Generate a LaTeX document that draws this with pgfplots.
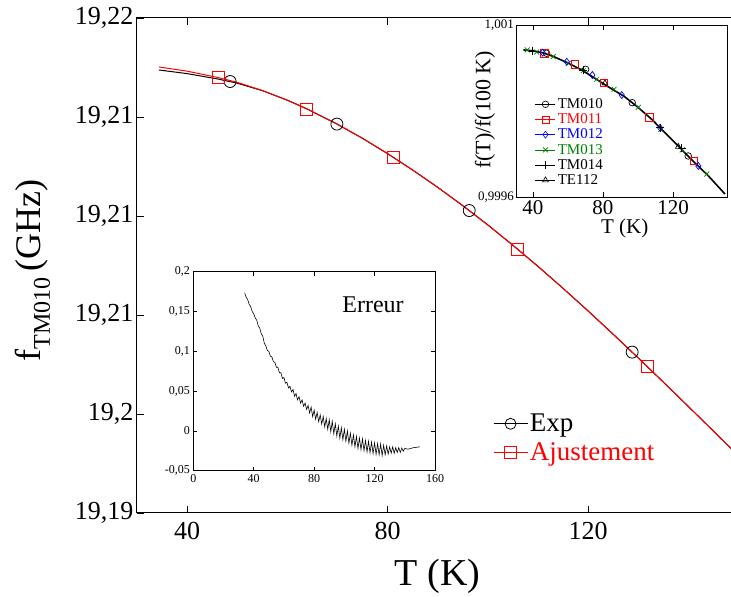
\documentclass[border=0pt]{standalone}
\usepackage{fontspec}
\setmainfont{Liberation Serif}
\usepackage{pgfplots}
\pgfplotsset{compat=1.18}
\definecolor{dgreen}{rgb}{0,0.5,0}
\begin{document}
\begin{tikzpicture}
% ---------------- main axis ----------------
\begin{axis}[
  at={(136.9pt,84pt)}, anchor=south west, scale only axis,
  width=601.5pt, height=495pt,
  xmin=30, xmax=150, ymin=0, ymax=30,
  axis line style={line width=1pt},
  tick style={line width=0.8pt, black},
  tick align=inside, major tick length=7pt,
  xtick={40,80,120}, xticklabels={40,80,120},
  ytick={0,6,12,18,24,30},
  yticklabels={{19,19},{19,2},{19,21},{19,21},{19,21},{19,22}},
  ytick pos=left,
  ticklabel style={font=\fontsize{26}{26}\selectfont},
  xticklabel style={yshift=-6pt},
  xlabel={T (K)},
  every axis x label/.style={at={(axis description cs:0.5,-0.127)}, anchor=center, font=\fontsize{38}{38}\selectfont},
  ylabel={f\raisebox{-9pt}{\fontsize{24}{24}\selectfont TM010}\,(GHz)},
  every axis y label/.style={at={(axis description cs:-0.173,0.49)}, rotate=90, anchor=center, font=\fontsize{36}{36}\selectfont},
  legend style={draw=none, fill=none, at={(axis description cs:0.592,0.204)}, anchor=north west,
    font=\fontsize{27}{27}\selectfont, inner sep=0pt, row sep=5pt},
  legend cell align=left,
  legend image code/.code={\draw[mark repeat=2,mark phase=2,#1] plot coordinates {(0pt,0pt) (17pt,0pt) (34pt,0pt)};},
]
\addlegendimage{black, line width=0.8pt, mark=o, mark size=5.5pt}
\addlegendentry{Exp}
\addlegendimage{red, line width=0.8pt, mark=square, mark size=6pt}
\addlegendentry{\textcolor{red}{Ajustement}}
% Exp curve
\addplot[black, line width=1pt, forget plot] coordinates {
(34.4,26.85) (40,26.63) (46.2,26.30) (50,26.05) (55,25.60) (60,25.02) (64,24.48)
(70,23.56) (75,22.71) (80,21.78) (85,20.79) (90,19.74) (95,18.63) (100,17.46)
(105,16.23) (110,14.95) (115,13.62) (120,12.25) (125,10.84) (130,9.40)
(135,7.94) (140,6.46) (145,4.97) (150,3.47)};
\addplot[black, only marks, mark=o, mark size=6pt, line width=0.8pt, forget plot] coordinates {
(48.6,26.15) (69.9,23.57) (96.3,18.33) (128.8,9.75)};
% fit curve
\addplot[red, line width=1pt, forget plot] coordinates {
(34.4,27.03) (40,26.78) (46.2,26.39) (50,26.10) (55,25.61) (60,25.02) (64,24.48)
(70,23.56) (75,22.71) (80,21.78) (85,20.79) (90,19.74) (95,18.63) (100,17.46)
(105,16.23) (110,14.95) (115,13.62) (120,12.25) (125,10.84) (130,9.40)
(135,7.94) (140,6.46) (145,4.97) (150,3.47)};
\addplot[red, only marks, mark=square, mark size=6pt, line width=0.8pt, forget plot] coordinates {
(46.2,26.39) (63.9,24.49) (81.1,21.58) (106.0,15.97) (131.8,8.88)};
\end{axis}
% ---------------- error inset ----------------
\begin{axis}[
  at={(193.3pt,126.3pt)}, anchor=south west, scale only axis,
  width=241.7pt, height=199pt,
  xmin=0, xmax=160, ymin=-0.05, ymax=0.2,
  axis background/.style={fill=white},
  axis line style={line width=0.7pt},
  tick style={line width=0.6pt, black},
  tick align=inside, major tick length=4pt,
  xtick={0,40,80,120,160}, xticklabels={0,40,80,120,160},
  ytick={-0.05,0,0.05,0.1,0.15,0.2},
  yticklabels={{-0,05},{0},{0,05},{0,1},{0,15},{0,2}},
  ticklabel style={font=\fontsize{12}{12}\selectfont},
]
\addplot[black, line width=0.6pt] coordinates {
(34,0.1735) (35,0.168) (36,0.165) (37,0.159) (38,0.156) (39,0.150) (40,0.147)
(41,0.142) (42,0.139) (43,0.132) (44,0.129) (45,0.122) (46,0.119) (47,0.110)
(48,0.107) (49,0.101) (50,0.100) (51,0.094) (52,0.093) (53,0.087) (54,0.086)
(55,0.080) (56,0.080) (57,0.073) (58,0.073) (59,0.066) (60,0.067) (61,0.060)
(62,0.061) (63,0.054) (64,0.056) (65,0.049)
(66,0.052) (67,0.0435) (68,0.047) (69,0.039) (70,0.043) (71,0.035) (72,0.039)
(73,0.031) (74,0.035) (75,0.027) (76,0.032) (77,0.0225) (78,0.030) (79,0.018)
(80,0.026) (81,0.0145) (82,0.023) (83,0.0115) (84,0.020) (85,0.0085) (86,0.018)
(87,0.005) (88,0.0155) (89,0.002) (90,0.014) (91,-0.001) (92,0.012) (93,-0.0035)
(94,0.009) (95,-0.0065) (96,0.006) (97,-0.009) (98,0.004) (99,-0.011) (100,0.002)
(101,-0.013) (102,0.000) (103,-0.0155) (104,-0.003) (105,-0.018) (106,-0.005)
(107,-0.020) (108,-0.007) (109,-0.022) (110,-0.009) (111,-0.0235) (112,-0.010)
(113,-0.025) (114,-0.012) (115,-0.0265) (116,-0.013) (117,-0.0275) (118,-0.014)
(119,-0.0285) (120,-0.015) (121,-0.0295) (122,-0.016) (123,-0.030) (124,-0.0165)
(125,-0.031) (126,-0.018) (127,-0.030) (128,-0.019) (129,-0.029) (130,-0.020)
(131,-0.028) (132,-0.020) (133,-0.028) (134,-0.021) (135,-0.027) (136,-0.021)
(137,-0.027) (138,-0.0215) (139,-0.0255) (140,-0.022) (142,-0.023) (144,-0.022)
(146,-0.021) (148,-0.0205) (150,-0.020)};
\node[font=\fontsize{24}{24}\selectfont] at (axis cs:119,0.158) {Erreur};
\end{axis}
% ---------------- normalised inset ----------------
\begin{axis}[
  at={(516pt,400pt)}, anchor=south west, scale only axis,
  width=211pt, height=172pt,
  xmin=30.29, xmax=150.86, ymin=-4, ymax=10,
  axis background/.style={fill=white},
  axis line style={line width=0.9pt},
  tick style={line width=0.7pt, black},
  tick align=inside, major tick length=5pt,
  xtick={40,80,120}, xticklabels={40,80,120},
  ytick={-4,10}, yticklabels={{0,9996},{1,001}},
  xticklabel style={font=\fontsize{21}{21}\selectfont},
  yticklabel style={font=\fontsize{13}{13}\selectfont, inner sep=2pt},
  xlabel={T (K)},
  every axis x label/.style={at={(axis description cs:0.515,-0.185)}, anchor=center, font=\fontsize{21}{21}\selectfont},
  ylabel={f(T)/f(100 K)},
  every axis y label/.style={at={(axis description cs:-0.147,0.506)}, rotate=90, anchor=center, font=\fontsize{22}{22}\selectfont},
  legend style={draw=none, fill=none, at={(axis description cs:0.09,0.585)}, anchor=north west,
    font=\fontsize{15}{15}\selectfont, inner sep=0pt, row sep=-0.3pt},
  legend cell align=left,
  legend image code/.code={\draw[mark repeat=2,mark phase=2,#1] plot coordinates {(0pt,0pt) (10pt,0pt) (20pt,0pt)};},
]
\addlegendimage{black, line width=0.6pt, mark=o, mark size=3.3pt}
\addlegendentry{TM010}
\addlegendimage{red, line width=0.6pt, mark=square, mark size=3.6pt}
\addlegendentry{\textcolor{red}{TM011}}
\addlegendimage{blue, line width=0.6pt, mark=diamond, mark size=3.5pt}
\addlegendentry{\textcolor{blue}{TM012}}
\addlegendimage{dgreen, line width=0.6pt, mark=x, mark size=3.5pt}
\addlegendentry{\textcolor{dgreen}{TM013}}
\addlegendimage{black, line width=0.6pt, mark=+, mark size=4pt}
\addlegendentry{TM014}
\addlegendimage{black, line width=0.6pt, mark=triangle, mark size=3.3pt}
\addlegendentry{TE112}
\addplot[black, line width=1.6pt, forget plot] coordinates {
(34.5,7.97) (40,7.90) (46,7.72) (52,7.42) (60,6.90) (68,6.33) (76,5.60)
(84,4.88) (92,4.20) (100,3.30) (108,2.30) (116,1.15) (124,0.00) (132,-1.15)
(140,-2.25) (149.7,-3.76)};
\addplot[dgreen, only marks, mark=x, mark size=3.5pt, line width=0.7pt, forget plot] coordinates {
(36.7,7.97) (42.1,7.80) (51.6,7.42) (60.2,6.88) (68.7,6.28) (76.4,5.58) (86.3,4.77)
(100.2,3.30) (113.0,1.51) (125.3,-0.17) (139.3,-2.13)};
\addplot[black, only marks, mark=o, mark size=3.3pt, line width=0.7pt, forget plot] coordinates {
(47.8,7.70) (70.1,6.39) (96.7,3.68) (128.7,-0.66)};
\addplot[red, only marks, mark=square, mark size=3.6pt, line width=0.7pt, forget plot] coordinates {
(46.5,7.70) (64.0,6.80) (80.7,5.30) (106.5,2.49) (132.0,-1.09)};
\addplot[blue, only marks, mark=diamond, mark size=3.5pt, line width=0.7pt, forget plot] coordinates {
(45.5,7.75) (59.3,7.01) (73.9,5.93) (90.7,4.30) (112.6,1.64) (134.5,-1.48)};
\addplot[black, only marks, mark=+, mark size=4pt, line width=0.7pt, forget plot] coordinates {
(39.8,7.88) (68.7,6.34) (112.6,1.64) (125.0,0.00)};
\addplot[black, only marks, mark=triangle, mark size=3.3pt, line width=0.7pt, forget plot] coordinates {
(81.1,5.26) (123.0,0.09)};
\end{axis}
\pgfresetboundingbox
\path[use as bounding box] (0pt,0pt) rectangle (731pt,597pt);
\end{tikzpicture}
\end{document}
